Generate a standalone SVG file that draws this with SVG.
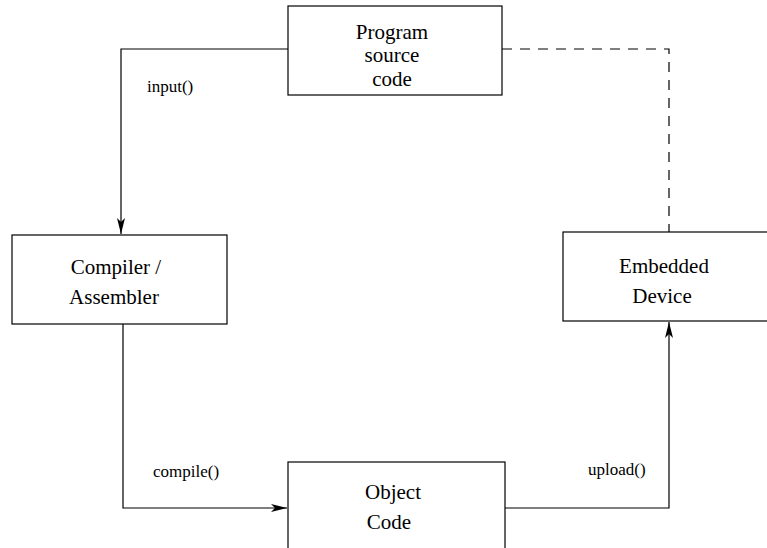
<svg xmlns="http://www.w3.org/2000/svg" width="767" height="548" viewBox="0 0 767 548">
<defs>
<style>
.box{fill:#fff;stroke:#000;stroke-width:1.2}
.t{font-size:21px;fill:#000;text-anchor:middle}
.l{font-size:17px;fill:#000}
.c{fill:none;stroke:#000;stroke-width:1.2}
.d{fill:none;stroke:#000;stroke-width:1.2;stroke-dasharray:10,8}
</style>
<marker id="ah" markerWidth="16" markerHeight="10" refX="16" refY="5" orient="auto" markerUnits="userSpaceOnUse">
<path d="M0,1 L16,5 L0,9 L4,5 Z" fill="#000"/>
</marker>
</defs>
<rect width="767" height="548" fill="#fff"/>
<g font-family="Liberation Serif, DejaVu Serif, serif">
<g id="connectors">
<path class="c" d="M288,49 H121 V234" marker-end="url(#ah)"/>
<path class="c" d="M123,324 V508 H287" marker-end="url(#ah)"/>
<path class="c" d="M505,508 H669 V322" marker-end="url(#ah)"/>
<path class="d" d="M502,49 H669 V232"/>
<text class="l" x="147" y="92">input()</text>
<text class="l" x="153" y="477">compile()</text>
<text class="l" x="588" y="475">upload()</text>
</g>
<g id="program">
<rect class="box" x="288" y="6" width="214" height="89"/>
<text class="t" x="392" y="39">Program</text>
<text class="t" x="392" y="62">source</text>
<text class="t" x="392" y="86">code</text>
</g>
<g id="compiler">
<rect class="box" x="12" y="235" width="215" height="89"/>
<text class="t" x="116" y="274">Compiler /</text>
<text class="t" x="114" y="304">Assembler</text>
</g>
<g id="embedded">
<rect class="box" x="563" y="232" width="215" height="89"/>
<text class="t" x="664" y="273">Embedded</text>
<text class="t" x="662" y="303">Device</text>
</g>
<g id="object">
<rect class="box" x="288" y="462" width="217" height="100"/>
<text class="t" x="393" y="499">Object</text>
<text class="t" x="389" y="529">Code</text>
</g>
</g>
</svg>
